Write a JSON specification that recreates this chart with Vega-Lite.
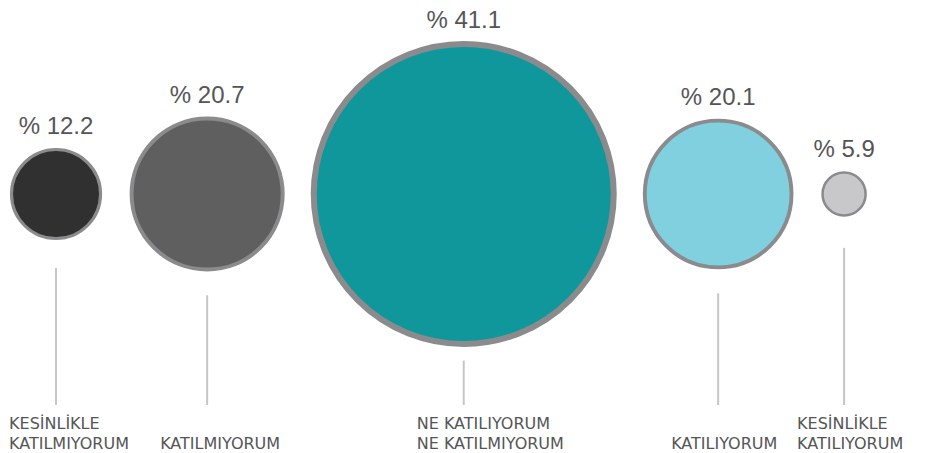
{
  "$schema": "https://vega.github.io/schema/vega-lite/v6.json",
  "width": 930,
  "height": 453,
  "autosize": {"type": "none"},
  "padding": 0,
  "background": "white",
  "config": {"view": {"stroke": null}},
  "data": {"values": [
    {"sira": 1, "satir1": "KESİNLİKLE", "satir2": "KATILMIYORUM", "deger": 12.2},
    {"sira": 2, "satir1": "", "satir2": "KATILMIYORUM", "deger": 20.7},
    {"sira": 3, "satir1": "NE KATILIYORUM", "satir2": "NE KATILMIYORUM", "deger": 41.1},
    {"sira": 4, "satir1": "", "satir2": "KATILIYORUM", "deger": 20.1},
    {"sira": 5, "satir1": "KESİNLİKLE", "satir2": "KATILIYORUM", "deger": 5.9}
  ]},
  "transform": [
    {"window": [{"op": "sum", "field": "deger", "as": "kumulatif"}, {"op": "row_number", "as": "sira_no"}], "sort": [{"field": "sira", "order": "ascending"}], "frame": [null, 0]},
    {"calculate": "datum.kumulatif - datum.deger / 2 + 4.25 * (datum.sira_no - 1)", "as": "konum"},
    {"calculate": "'% ' + format(datum.deger, '.1f')", "as": "etiket"}
  ],
  "encoding": {
    "x": {"field": "konum", "type": "quantitative", "scale": {"domain": [-1.575, 125.82], "nice": false, "zero": false}, "axis": null}
  },
  "layer": [
    {
      "mark": {"type": "rule", "color": "#c6c6c6", "strokeWidth": 2},
      "encoding": {
        "y": {"field": "deger", "type": "quantitative", "scale": {"domain": [70, -71.56], "nice": false, "zero": false}, "axis": null},
        "y2": {"datum": 55}
      }
    },
    {
      "mark": {"type": "circle", "opacity": 1, "stroke": "#8b8b8d"},
      "encoding": {
        "y": {"datum": 0, "type": "quantitative", "scale": {"domain": [-70.38, 52.72], "nice": false, "zero": false}, "axis": null},
        "size": {"field": "deger", "type": "quantitative", "scale": {"type": "pow", "exponent": 2, "domain": [0, 41.1], "range": [0, 90000]}, "legend": null},
        "strokeWidth": {"field": "deger", "type": "quantitative", "scale": {"domain": [5.9, 41.1], "range": [2.5, 6]}, "legend": null},
        "color": {"field": "sira", "type": "nominal", "scale": {"domain": [1, 2, 3, 4, 5], "range": ["#303030", "#5f5f5f", "#10979b", "#80d0df", "#c8c8ca"]}, "legend": null}
      }
    },
    {
      "mark": {"type": "text", "font": "Liberation Sans", "fontSize": 24, "color": "#555557", "baseline": "alphabetic", "align": "center", "dy": -15},
      "encoding": {
        "y": {"field": "deger", "type": "quantitative", "scale": {"domain": [-70.38, 52.72], "nice": false, "zero": false}, "axis": null},
        "text": {"field": "etiket", "type": "nominal"}
      }
    },
    {
      "mark": {"type": "text", "font": "DejaVu Sans", "fontSize": 16, "color": "#555557", "align": "left", "baseline": "alphabetic", "dx": -47, "dy": -24.5},
      "encoding": {
        "y": {"value": "height"},
        "text": {"field": "satir1", "type": "nominal"}
      }
    },
    {
      "mark": {"type": "text", "font": "DejaVu Sans", "fontSize": 16, "color": "#555557", "align": "left", "baseline": "alphabetic", "dx": -47, "dy": -4.5},
      "encoding": {
        "y": {"value": "height"},
        "text": {"field": "satir2", "type": "nominal"}
      }
    }
  ],
  "resolve": {"scale": {"y": "independent"}}
}
